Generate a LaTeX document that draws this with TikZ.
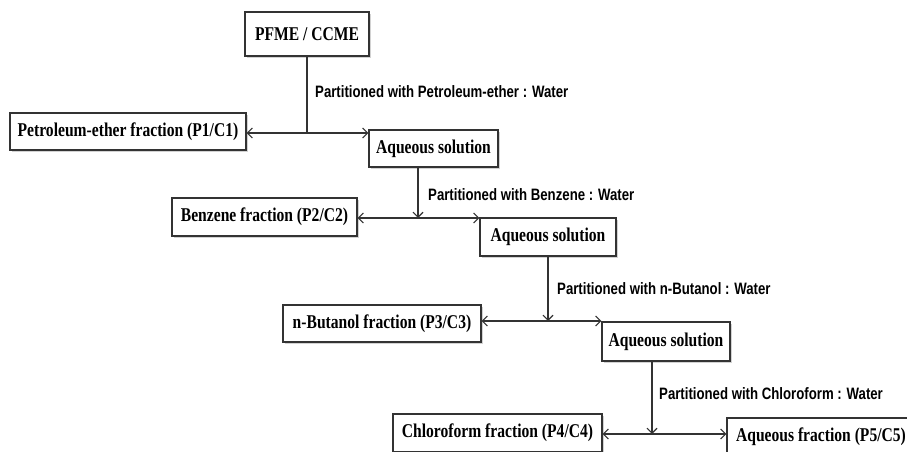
\documentclass[tikz,border=0pt]{standalone}
\usepackage{fontspec}
\usetikzlibrary{arrows.meta,shadows}
\newfontfamily\boxfont[FakeStretch=0.80]{Liberation Serif}
\newfontfamily\labfont[FakeStretch=0.80]{Liberation Sans}
\definecolor{linegray}{HTML}{333333}
\tikzset{
  fbox/.style={draw=linegray, line width=1.2pt, fill=white, inner sep=0pt,
    font=\boxfont\bfseries\fontsize{19.5}{21}\selectfont,
    drop shadow={shadow xshift=1.8pt, shadow yshift=-1.8pt, opacity=0.35, fill=gray}},
  plabel/.style={anchor=west, inner sep=0pt, font=\labfont\bfseries\fontsize{16.5}{18}\selectfont},
  conn/.style={draw=linegray, line width=1.2pt},
  tip/.style={-{Straight Barb[length=5pt,width=10pt,line width=1.1pt]}},
  btip/.style={{Straight Barb[length=5pt,width=10pt,line width=1.1pt]}-{Straight Barb[length=5pt,width=10pt,line width=1.1pt]}}
}
\begin{document}
\begin{tikzpicture}[x=1pt,y=-1pt]
\clip (0,0) rectangle (907,452);
\fill[white] (0,0) rectangle (907,452);

\node[fbox, minimum width=124pt, minimum height=44pt] (pfme) at (307,34) {PFME / CCME};
\node[fbox, minimum width=236pt, minimum height=37pt] (pet) at (128,131.5) {Petroleum-ether fraction (P1/C1)};
\node[fbox, minimum width=129pt, minimum height=37pt] (aq1) at (433.5,148.5) {Aqueous solution};
\node[fbox, minimum width=185pt, minimum height=38pt] (benz) at (264.5,217) {Benzene fraction (P2/C2)};
\node[fbox, minimum width=136pt, minimum height=38pt] (aq2) at (548,237) {Aqueous solution};
\node[fbox, minimum width=198pt, minimum height=37pt] (but) at (382,323.5) {n-Butanol fraction (P3/C3)};
\node[fbox, minimum width=128pt, minimum height=39pt] (aq3) at (666,341.5) {Aqueous solution};
\node[fbox, minimum width=209pt, minimum height=38pt] (chl) at (497.5,433) {Chloroform fraction (P4/C4)};
\node[fbox, minimum width=188pt, minimum height=38pt] (aqf) at (821,437) {Aqueous fraction (P5/C5)};

\coordinate (j1) at (307,133);
\coordinate (j2) at (418,218);
\coordinate (j3) at (548,321);
\coordinate (j4) at (652,434);

\draw[conn] (pfme.south) -- (j1);
\draw[conn, btip] (pet.east |- j1) -- (aq1.west |- j1);

\draw[conn, tip] (aq1.south -| j2) -- (j2);
\draw[conn, btip] (benz.east |- j2) -- (aq2.west |- j2);

\draw[conn, tip] (aq2.south) -- (j3);
\draw[conn, btip] (but.east |- j3) -- (aq3.west |- j3);

\draw[conn, tip] (aq3.south -| j4) -- (j4);
\draw[conn, btip] (chl.east |- j4) -- (aqf.west |- j4);

\node[plabel] (l1) at (315,92) {Partitioned with Petroleum-ether : Water};
\node[plabel] (l2) at (428,195) {Partitioned with Benzene : Water};
\node[plabel] (l3) at (557,289) {Partitioned with n-Butanol : Water};
\node[plabel] (l4) at (659,394) {Partitioned with Chloroform : Water};
\end{tikzpicture}
\end{document}
